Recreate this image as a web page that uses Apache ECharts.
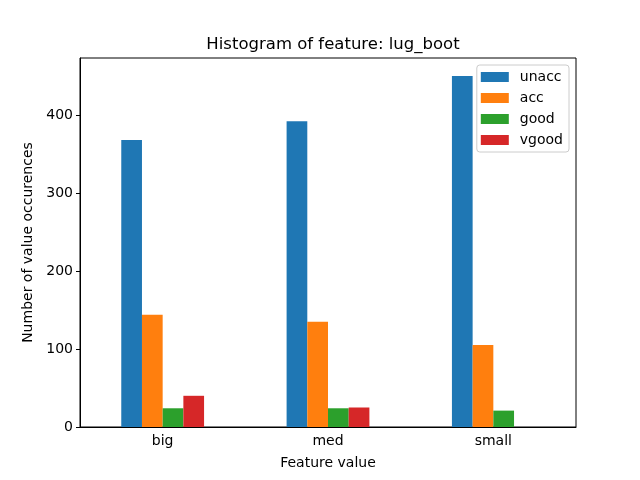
<!DOCTYPE html>
<html>
<head>
<meta charset="utf-8">
<script src="https://cdn.jsdelivr.net/npm/echarts@6/dist/echarts.min.js"></script>
<style>
  html, body { margin: 0; padding: 0; background: #fff; }
  #chart { width: 640px; height: 480px; }
</style>
</head>
<body>
<div id="chart"></div>
<script>
// data
const categories = ['big', 'med', 'small'];
const unacc = [368, 392, 450];
const acc = [144, 135, 105];
const good = [24, 24, 21];
const vgood = [40, 25, 0];

const seriesNames = ['unacc', 'acc', 'good', 'vgood'];
const seriesData = [unacc, acc, good, vgood];
const colors = ['#1f77b4', '#ff7f0e', '#2ca02c', '#d62728'];

const font = 'DejaVu Sans';
const chart = echarts.init(document.getElementById('chart'));

chart.setOption({
  backgroundColor: '#fff',
  animation: false,
  title: {
    text: 'Histogram of feature: lug_boot',
    left: 328,
    textAlign: 'center',
    top: 31,
    textStyle: { fontFamily: font, fontSize: 16.5, fontWeight: 'normal', color: '#000' },
  },
  legend: {
    orient: 'vertical',
    right: 71,
    top: 65,
    padding: [5, 6, 5, 4],
    itemGap: 7,
    itemWidth: 28,
    itemHeight: 10,
    borderColor: '#ccc',
    borderWidth: 1,
    borderRadius: 3,
    backgroundColor: 'rgba(255,255,255,0.8)',
    textStyle: { fontFamily: font, fontSize: 14, color: '#000', padding: [0, 0, 0, 6] },
    icon: 'rect',
    data: seriesNames,
  },
  grid: {
    left: 80,
    right: 64,
    top: 58,
    bottom: 53,
    show: true,
    borderColor: '#000',
    borderWidth: 1,
    backgroundColor: 'transparent',
  },
  xAxis: {
    type: 'category',
    data: categories,
    name: 'Feature value',
    nameLocation: 'middle',
    nameGap: 29,
    nameTextStyle: { fontFamily: font, fontSize: 14, color: '#000' },
    axisLine: { lineStyle: { color: '#000' } },
    axisTick: { alignWithLabel: true, length: 4, lineStyle: { color: '#000' } },
    axisLabel: { fontFamily: font, fontSize: 14, color: '#000', margin: 7 },
  },
  yAxis: {
    type: 'value',
    min: 0,
    max: 473,
    interval: 100,
    name: 'Number of value occurences',
    nameLocation: 'middle',
    nameGap: 39,
    nameTextStyle: { fontFamily: font, fontSize: 14, color: '#000' },
    axisLine: { show: true, lineStyle: { color: '#000' } },
    axisTick: { show: true, length: 4, lineStyle: { color: '#000' } },
    axisLabel: { fontFamily: font, fontSize: 14, color: '#000', margin: 7, showMaxLabel: false },
    splitLine: { show: false },
  },
  series: seriesNames.map((name, i) => ({
    name,
    type: 'bar',
    data: seriesData[i],
    barWidth: 20.7,
    barGap: '0%',
    itemStyle: { color: colors[i] },
  })),
});
</script>
</body>
</html>
